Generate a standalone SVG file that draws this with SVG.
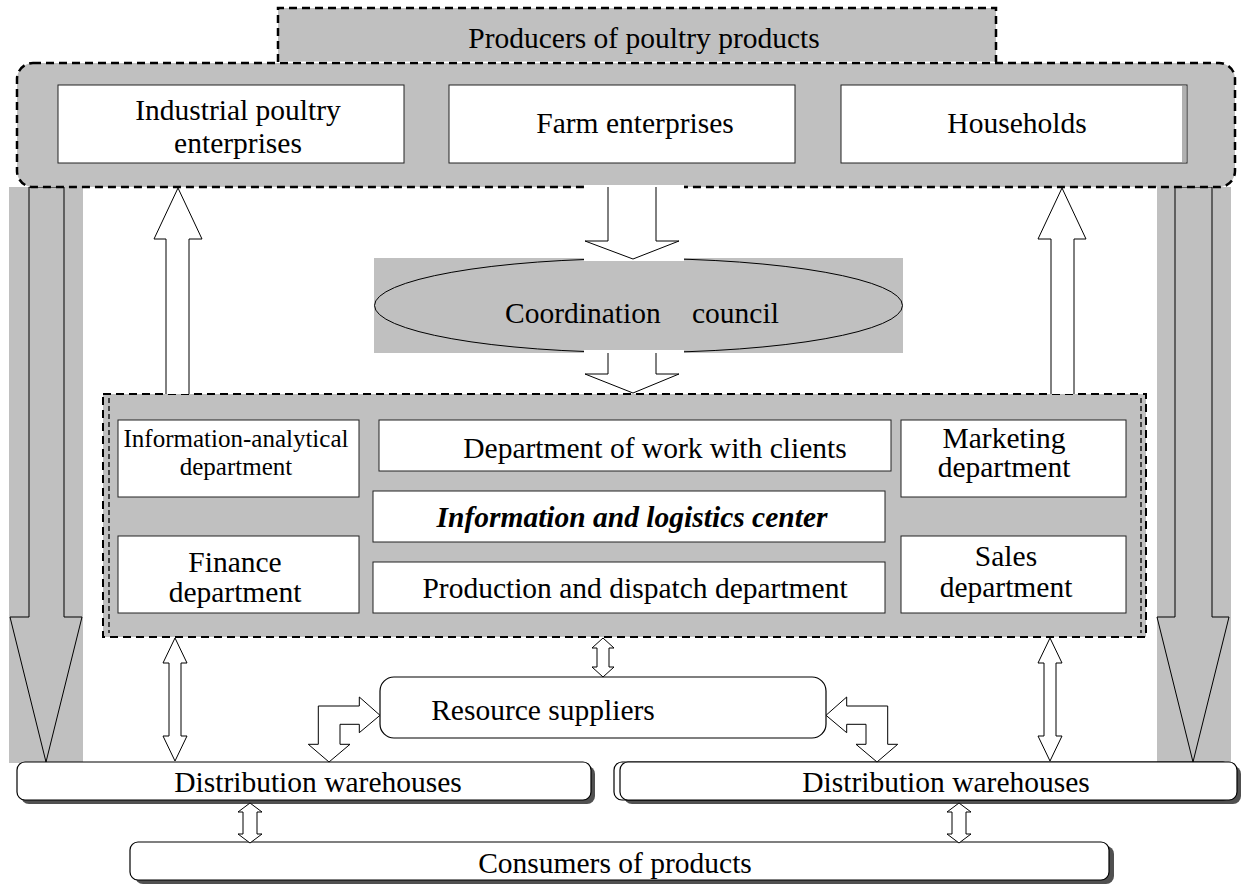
<svg xmlns="http://www.w3.org/2000/svg" width="1241" height="886" viewBox="0 0 1241 886">
  <style>
    .t { font-family: "Liberation Serif", "Times New Roman", serif; font-size: 29.5px; fill: #000; text-anchor: middle; }
    .ts { font-size: 25px; }
    .bi { font-weight: bold; font-style: italic; }
    .gray { fill: #c0c0c0; }
    .box { fill: #fff; stroke: #222; stroke-width: 1; }
    .dash { fill: none; stroke: #000; stroke-width: 2.5; stroke-dasharray: 8 5; }
    .dash-thin { fill: none; stroke: #000; stroke-width: 1.3; stroke-dasharray: 5 3; }
    .arr { fill: #fff; stroke: #000; stroke-width: 1; stroke-linejoin: miter; }
    .garr { fill: #c0c0c0; stroke: #000; stroke-width: 1; }
    .rbox { fill: #fff; stroke: #000; stroke-width: 1.2; }
    .shadow { fill: #505050; }
    .patch { fill: #fff; }
  </style>

  <!-- side flows: producers down to warehouses -->
  <g id="flow-left">
    <rect class="gray" x="9" y="187" width="74" height="576"/>
    <path class="garr" d="M29,187 H64 V617 H82 L46,762 L10,617 H29 Z"/>
  </g>
  <g id="flow-right">
    <rect class="gray" x="1157" y="187" width="74" height="576"/>
    <path class="garr" d="M1175,187 H1212 V617 H1229 L1193,762 L1157,617 H1175 Z"/>
  </g>

  <!-- producers group -->
  <g id="producers-frame">
    <rect class="gray" x="17" y="63" width="1218" height="124" rx="16"/>
    <rect class="dash" x="17" y="63" width="1218" height="124" rx="16"/>
  </g>
  <g id="producers">
    <rect class="gray" x="278" y="8" width="718" height="53.5"/>
    <path class="dash" d="M278,62 V8 H996 V62"/>
    <text class="t" x="644" y="48">Producers of poultry products</text>
  </g>
  <g id="industrial">
    <rect class="box" x="58" y="85" width="346" height="78"/>
    <text class="t" x="238" y="120">Industrial poultry</text>
    <text class="t" x="238" y="153">enterprises</text>
  </g>
  <g id="farm">
    <rect class="box" x="449" y="85" width="346" height="78"/>
    <text class="t" x="635" y="133">Farm enterprises</text>
  </g>
  <g id="households">
    <rect class="box" x="841" y="85" width="346" height="78"/>
    <rect x="1182" y="86" width="4" height="76" fill="#b0b0b0"/>
    <text class="t" x="1017" y="133">Households</text>
  </g>

  <!-- coordination council -->
  <g id="council">
    <rect class="gray" x="374" y="258" width="529" height="95"/>
    <ellipse cx="638.5" cy="305.5" rx="264" ry="47" fill="#c0c0c0" stroke="#000" stroke-width="1"/>
    <text class="t" style="text-anchor:start"><tspan x="505" y="323">Coordination</tspan><tspan x="692" y="323">council</tspan></text>
  </g>

  <!-- connectors -->
  <g id="connectors">
    <!-- producers to council, council to center -->
    <rect class="patch" x="584" y="185" width="100" height="76"/>
    <path class="arr" d="M608,187 V241 H585 L633,259 L679,241 H656 V187"/>
    <rect class="patch" x="584" y="350" width="100" height="43"/>
    <path class="arr" d="M608,353 V374 H585 L633,393 L679,374 H656 V353"/>
  </g>

  <!-- information and logistics center -->
  <g id="center">
    <rect class="gray" x="103" y="394" width="1043" height="243"/>
    <rect class="dash" style="stroke-width:2" x="103" y="394" width="1043" height="243"/>
    <path class="dash-thin" d="M109,398 V633 M1141,398 V633"/>
  </g>
  <g id="info-analytical">
    <rect class="box" x="118" y="420" width="241" height="77"/>
    <text class="t ts" x="236" y="447">Information-analytical</text>
    <text class="t ts" x="236" y="475">department</text>
  </g>
  <g id="finance">
    <rect class="box" x="118" y="536" width="241" height="77"/>
    <text class="t" x="235" y="572">Finance</text>
    <text class="t" x="235" y="602">department</text>
  </g>
  <g id="clients">
    <rect class="box" x="379" y="420" width="512" height="51"/>
    <text class="t" x="655" y="458">Department of work with clients</text>
  </g>
  <g id="logistics-center">
    <rect class="box" x="373" y="491" width="512" height="51"/>
    <text class="t bi" x="632" y="527">Information and logistics center</text>
  </g>
  <g id="production">
    <rect class="box" x="373" y="562" width="512" height="51"/>
    <text class="t" x="635" y="598">Production and dispatch department</text>
  </g>
  <g id="marketing">
    <rect class="box" x="901" y="420" width="225" height="77"/>
    <text class="t" x="1004" y="448">Marketing</text>
    <text class="t" x="1004" y="477">department</text>
  </g>
  <g id="sales">
    <rect class="box" x="901" y="536" width="225" height="77"/>
    <text class="t" x="1006" y="566">Sales</text>
    <text class="t" x="1006" y="597">department</text>
  </g>

  <!-- resource suppliers -->
  <g id="suppliers">
    <rect class="rbox" x="380" y="677" width="446" height="61" rx="14"/>
    <text class="t" x="543" y="720">Resource suppliers</text>
  </g>

  <!-- warehouses -->
  <g id="warehouses-left">
    <rect class="shadow" x="21" y="766" width="574" height="38" rx="8"/>
    <rect class="rbox" x="17" y="762" width="574" height="38" rx="8"/>
    <text class="t" x="318" y="792">Distribution warehouses</text>
  </g>
  <g id="warehouses-right">
    <rect class="shadow" x="624" y="766" width="617" height="38" rx="8"/>
    <rect class="rbox" x="614" y="762" width="617" height="38" rx="8"/>
    <rect class="rbox" x="620" y="762" width="617" height="38" rx="8"/>
    <text class="t" x="946" y="792">Distribution warehouses</text>
  </g>
  <g id="consumers">
    <rect class="shadow" x="135" y="846" width="979" height="38" rx="8"/>
    <rect class="rbox" x="130" y="842" width="979" height="38" rx="8"/>
    <text class="t" x="615" y="873">Consumers of products</text>
  </g>

  <!-- links between levels -->
  <g id="links">
    <!-- center to producers -->
    <path class="arr" d="M166,394 V239 H154 L178,188 L202,239 H189 V394"/>
    <path class="arr" d="M1051,394 V239 H1038 L1062,188 L1086,239 H1074 V394"/>
    <!-- center to warehouses and suppliers -->
    <polygon class="arr" points="175,638 187,663 181,663 181,736 187,736 175,761 163,736 169,736 169,663 163,663"/>
    <polygon class="arr" points="1050,638 1062,663 1056,663 1056,736 1062,736 1050,761 1038,736 1044,736 1044,663 1038,663"/>
    <polygon class="arr" points="603,638 614,648 609,648 609,667 614,667 603,677 592,667 597,667 597,648 592,648"/>
    <!-- suppliers to warehouses -->
    <polygon class="arr" points="318.3,706 359.3,706 359.3,697 380,715.3 359.3,732.7 359.3,724.3 340,724.3 340,744.3 350,744.3 329,762 308.3,744.3 318.3,744.3"/>
    <polygon class="arr" points="887.7,706 846.7,706 846.7,697 826,715.3 846.7,732.7 846.7,724.3 866,724.3 866,744.3 856,744.3 877,762 897.7,744.3 887.7,744.3"/>
    <!-- warehouses to consumers -->
    <polygon class="arr" points="250,803 262,812 257,812 257,834 262,834 250,843 238,834 243,834 243,812 238,812"/>
    <polygon class="arr" points="959,803 971,812 966,812 966,834 971,834 959,843 947,834 952,834 952,812 947,812"/>
  </g>
</svg>
